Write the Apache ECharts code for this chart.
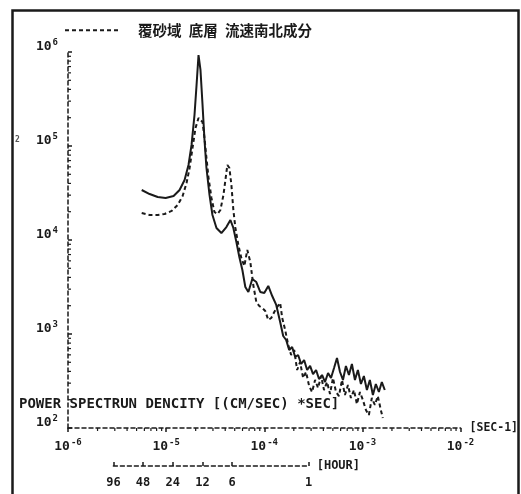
<!DOCTYPE html>
<html>
<head>
<meta charset="utf-8">
<script src="https://cdn.jsdelivr.net/npm/echarts@6/dist/echarts.min.js"></script>
<style>
  html, body { margin: 0; padding: 0; background: #fff; }
  #chart { width: 521px; height: 494px; }
</style>
</head>
<body>
<div id="chart"></div>
<script>
  // values are log10 of frequency [SEC-1] and log10 of power spectrum density
  const xDecades = [-6, -5, -4, -3, -2];
  const yDecades = [2, 3, 4, 5, 6];
  const hourTicks = [96, 48, 24, 12, 6, 1];

  const solidData = [
    [-5.249,4.532],[-5.168,4.489],[-5.086,4.457],[-5.005,4.447],[-4.924,4.468],[-4.863,4.532],
    [-4.812,4.638],[-4.772,4.798],[-4.741,5.011],[-4.711,5.330],[-4.690,5.649],[-4.670,5.968],
    [-4.650,5.809],[-4.629,5.436],[-4.609,5.064],[-4.589,4.766],[-4.558,4.479],[-4.528,4.266],
    [-4.487,4.128],[-4.437,4.074],[-4.386,4.138],[-4.345,4.213],[-4.315,4.128],[-4.284,3.979],
    [-4.254,3.819],[-4.223,3.681],[-4.193,3.500],[-4.162,3.447],[-4.122,3.585],[-4.081,3.553],
    [-4.041,3.447],[-4.000,3.436],[-3.959,3.511],[-3.919,3.404],[-3.878,3.309],[-3.838,3.128],
    [-3.807,2.979],[-3.777,2.936],[-3.746,2.830],[-3.716,2.862],[-3.685,2.755],[-3.655,2.777],
    [-3.624,2.681],[-3.594,2.723],[-3.563,2.617],[-3.533,2.660],[-3.503,2.574],[-3.472,2.617],
    [-3.442,2.521],[-3.411,2.564],[-3.381,2.489],[-3.350,2.585],[-3.320,2.532],[-3.289,2.638],
    [-3.259,2.745],[-3.228,2.596],[-3.198,2.511],[-3.168,2.660],[-3.137,2.564],[-3.107,2.681],
    [-3.076,2.511],[-3.046,2.617],[-3.015,2.468],[-2.985,2.553],[-2.954,2.404],[-2.924,2.511],
    [-2.893,2.351],[-2.863,2.468],[-2.832,2.383],[-2.802,2.489],[-2.772,2.404]
  ];

  const dashedData = [
    [-5.249,4.287],[-5.168,4.266],[-5.086,4.266],[-5.015,4.277],[-4.944,4.309],[-4.883,4.372],
    [-4.832,4.468],[-4.792,4.606],[-4.761,4.766],[-4.731,4.979],[-4.701,5.191],[-4.670,5.298],
    [-4.650,5.319],[-4.629,5.255],[-4.609,5.085],[-4.589,4.872],[-4.569,4.670],[-4.538,4.447],
    [-4.508,4.298],[-4.477,4.277],[-4.447,4.319],[-4.416,4.479],[-4.396,4.638],[-4.376,4.798],
    [-4.355,4.766],[-4.335,4.585],[-4.315,4.319],[-4.294,4.128],[-4.264,3.947],[-4.234,3.809],
    [-4.203,3.723],[-4.173,3.894],[-4.142,3.766],[-4.112,3.521],[-4.081,3.340],[-4.051,3.298],
    [-4.020,3.277],[-3.990,3.245],[-3.959,3.149],[-3.929,3.170],[-3.898,3.234],[-3.868,3.287],
    [-3.838,3.330],[-3.817,3.170],[-3.787,3.043],[-3.756,2.883],[-3.726,2.777],[-3.695,2.830],
    [-3.665,2.617],[-3.635,2.702],[-3.604,2.532],[-3.574,2.596],[-3.543,2.447],[-3.513,2.383],
    [-3.482,2.511],[-3.452,2.426],[-3.421,2.553],[-3.391,2.404],[-3.360,2.489],[-3.330,2.362],
    [-3.300,2.532],[-3.269,2.383],[-3.239,2.340],[-3.208,2.511],[-3.178,2.351],[-3.147,2.457],
    [-3.117,2.319],[-3.086,2.404],[-3.056,2.255],[-3.025,2.383],[-2.995,2.298],[-2.964,2.191],
    [-2.934,2.138],[-2.904,2.319],[-2.873,2.245],[-2.843,2.340],[-2.812,2.191],[-2.792,2.106]
  ];

  const mono = "'DejaVu Sans Mono', monospace";
  const ink = '#1a1a1a';

  // log-spaced minor ticks (2..9 within each decade)
  const minorTicks = [];
  xDecades.slice(0, -1).forEach(function (d) {
    for (let k = 2; k <= 9; k++) minorTicks.push([d + Math.log10(k), 0]);
  });
  yDecades.slice(0, -1).forEach(function (d) {
    for (let k = 2; k <= 9; k++) minorTicks.push([d + Math.log10(k), 1]);
  });

  const hourValues = hourTicks.map(function (h) { return -Math.log10(h * 3600); });

  function powLabel(v) {
    return '{b|10}{s|' + Math.round(v) + '}';
  }
  const powRich = {
    b: { fontFamily: mono, fontWeight: 'bold', fontSize: 13, color: ink },
    s: { fontFamily: mono, fontWeight: 'bold', fontSize: 9, color: ink, padding: [0, 0, 8, 1] }
  };

  const chart = echarts.init(document.getElementById('chart'));
  chart.setOption({
    animation: false,
    backgroundColor: '#fff',
    legend: {
      data: ['覆砂域 底層 流速南北成分'],
      left: 59,
      top: 18,
      itemWidth: 54,
      itemHeight: 10,
      itemStyle: { opacity: 0 },
      lineStyle: { type: [4, 3], width: 2, color: ink },
      textStyle: {
        fontFamily: "'Noto Sans CJK JP'", fontWeight: 'bold', fontSize: 14.5, color: ink,
        padding: [0, 0, 0, 14]
      },
      formatter: function () { return '覆砂域\u2002底層\u2002流速南北成分'; }
    },
    grid: [
      { left: 68, top: 52, width: 394, height: 376 },
      { left: 113.4, top: 465, width: 195.3, height: 1 }
    ],
    xAxis: [
      {
        type: 'value', gridIndex: 0, min: -6, max: -2, interval: 1,
        name: '[SEC-1]', nameLocation: 'end', nameGap: 9,
        nameTextStyle: { fontFamily: mono, fontWeight: 'bold', fontSize: 11.5, color: ink },
        axisLine: { lineStyle: { color: ink, width: 1.5, type: [4, 3] } },
        axisTick: { length: 4, lineStyle: { color: ink, width: 1.5 } },
        axisLabel: { margin: 10, formatter: powLabel, rich: powRich },
        splitLine: { show: false }
      },
      {
        type: 'value', gridIndex: 1, min: hourValues[0], max: hourValues[hourValues.length - 1],
        name: '[HOUR]', nameLocation: 'end', nameGap: 8,
        nameTextStyle: { fontFamily: mono, fontWeight: 'bold', fontSize: 12, color: ink },
        axisLine: { lineStyle: { color: ink, width: 1.5, type: [4, 3] } },
        axisTick: { customValues: hourValues, length: 4, inside: true, lineStyle: { color: ink, width: 1.5 } },
        axisLabel: {
          customValues: hourValues, margin: 11,
          fontFamily: mono, fontWeight: 'bold', fontSize: 12, color: ink,
          formatter: function (v) { return String(Math.round(Math.pow(10, -v) / 3600)); }
        },
        splitLine: { show: false }
      }
    ],
    yAxis: [
      {
        type: 'value', gridIndex: 0, min: 2, max: 6, interval: 1,
        axisLine: { show: true, lineStyle: { color: ink, width: 1.5, type: [4, 3] } },
        axisTick: { show: true, inside: true, length: 4, lineStyle: { color: ink, width: 1.5 } },
        axisLabel: { margin: 10, verticalAlign: 'middle', padding: [0, 0, 10, 0],
          formatter: powLabel, rich: powRich },
        splitLine: { show: false }
      },
      { type: 'value', gridIndex: 1, show: false, min: 0, max: 1 }
    ],
    graphic: [
      {
        type: 'rect', silent: true,
        shape: { x: 12.5, y: 10.5, width: 506, height: 520 },
        style: { fill: null, stroke: ink, lineWidth: 2.5 }
      },
      {
        type: 'text', left: 19, top: 397,
        style: {
          text: 'POWER SPECTRUN DENCITY [(CM/SEC) *SEC]',
          fontFamily: mono, fontWeight: 'bold', fontSize: 14, fill: ink
        }
      },
      {
        type: 'text', left: 15, top: 136,
        style: { text: '2', fontFamily: mono, fontWeight: 'bold', fontSize: 8, fill: '#555' }
      }
    ],
    series: [
      {
        name: 'solid', type: 'line', xAxisIndex: 0, yAxisIndex: 0,
        data: solidData, showSymbol: false, symbol: 'none',
        lineStyle: { color: ink, width: 2 }
      },
      {
        name: '覆砂域 底層 流速南北成分', type: 'line', xAxisIndex: 0, yAxisIndex: 0,
        data: dashedData, showSymbol: false, symbol: 'none',
        itemStyle: { color: ink },
        lineStyle: { color: ink, width: 2, type: [4, 3] }
      },
      {
        type: 'custom', xAxisIndex: 0, yAxisIndex: 0, silent: true,
        data: minorTicks,
        renderItem: function (params, api) {
          const v = api.value(0);
          if (api.value(1) === 0) {
            const p = api.coord([v, 2]);
            return { type: 'line', shape: { x1: p[0], y1: p[1], x2: p[0], y2: p[1] + 3 },
              style: { stroke: ink, lineWidth: 1.2 } };
          }
          const q = api.coord([-6, v]);
          return { type: 'line', shape: { x1: q[0], y1: q[1], x2: q[0] + 3, y2: q[1] },
            style: { stroke: ink, lineWidth: 1.2 } };
        }
      }
    ]
  });
</script>
</body>
</html>
